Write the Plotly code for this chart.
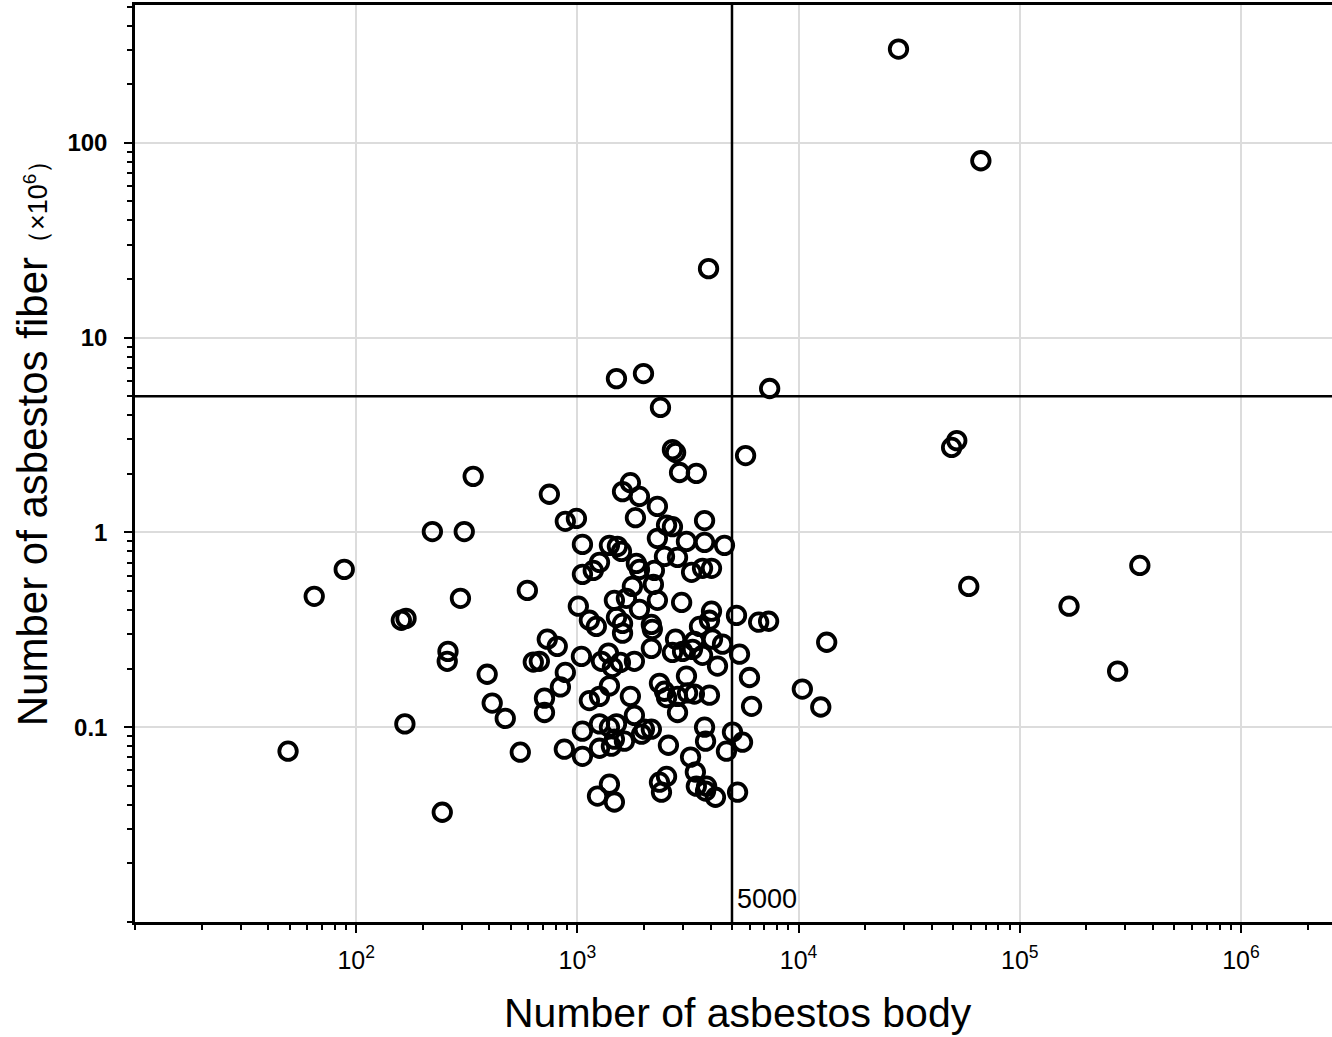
import math
import plotly.graph_objects as go

# Number of asbestos body (x) and number of asbestos fiber (x10^6) (y)
asbestos_body = [
    28300, 66700, 3917, 1990, 1502, 7400, 2375, 5760, 51900, 49200,
    2690, 2780, 2897, 3450, 338, 747, 1736, 1600, 1908, 990,
    882, 1830, 2300, 3758, 221, 308,
    1054, 1396, 1517, 1582, 2300, 2530, 2690, 3113, 3758, 4624,
    2476, 2836, 1259, 1180, 1054, 1848, 1908, 2229, 3283, 3680,
    4040, 88.3, 64.6,
    1773, 2206, 1010, 1470, 1666, 1908, 2300, 2960, 594, 296,
    160, 168, 5240, 4040, 3955, 3565, 6600, 7320, 1133, 1218,
    1502, 1600, 1600, 2160, 2182, 58800, 167000, 349000,
    731, 811, 2778, 3381, 4082, 4530, 3315, 3680, 13400, 673,
    1043, 1285, 1382, 1440, 1565, 1810, 2160, 2690, 2990, 5408,
    4300, 3113, 5998, 260, 258, 632, 391, 882, 838, 277000,
    710, 710, 1396, 1133, 1259, 1736, 2350, 2476, 2530, 2836,
    3148, 3381, 3955, 2836, 6130, 10400, 12600, 412, 472, 1054,
    1259, 1396, 1502, 1470, 1632, 1810, 1950, 2009, 2160, 2580,
    3758, 3797, 5025, 5580, 4720, 873, 1054, 1259, 1425, 3248,
    166, 49.2, 552,
    3415, 1396, 1233, 1470, 2350, 2530, 2400, 3450, 3840, 3797,
    4210, 5300, 245,
]
asbestos_fiber = [
    303, 80.9, 22.6, 6.54, 6.16, 5.48, 4.38, 2.48, 2.96, 2.73,
    2.66, 2.57, 2.03, 2.01, 1.94, 1.57, 1.80, 1.62, 1.53, 1.18,
    1.14, 1.19, 1.36, 1.15, 1.01, 1.01,
    0.868, 0.858, 0.848, 0.799, 0.932, 1.09, 1.07, 0.899, 0.889, 0.858,
    0.753, 0.744, 0.702, 0.638, 0.609, 0.693, 0.646, 0.638, 0.624, 0.654,
    0.654, 0.646, 0.470,
    0.528, 0.541, 0.418, 0.448, 0.459, 0.403, 0.448, 0.437, 0.504, 0.459,
    0.354, 0.362, 0.375, 0.394, 0.354, 0.329, 0.346, 0.350, 0.354, 0.329,
    0.366, 0.341, 0.304, 0.337, 0.318, 0.528, 0.418, 0.677,
    0.283, 0.260, 0.283, 0.276, 0.283, 0.267, 0.251, 0.234, 0.273, 0.218,
    0.231, 0.218, 0.240, 0.203, 0.215, 0.218, 0.254, 0.242, 0.245, 0.237,
    0.206, 0.183, 0.180, 0.245, 0.218, 0.216, 0.187, 0.191, 0.161, 0.194,
    0.141, 0.119, 0.163, 0.137, 0.144, 0.144, 0.168, 0.153, 0.142, 0.144,
    0.150, 0.148, 0.146, 0.119, 0.128, 0.157, 0.127, 0.133, 0.111, 0.0954,
    0.104, 0.100, 0.104, 0.0868, 0.0848, 0.115, 0.0921, 0.0977, 0.0977, 0.0808,
    0.100, 0.0848, 0.0944, 0.0838, 0.0753, 0.0771, 0.0709, 0.0780, 0.0799, 0.0702,
    0.104, 0.0753, 0.0744,
    0.0589, 0.0510, 0.0443, 0.0413, 0.0522, 0.0559, 0.0464, 0.0498, 0.0498, 0.0470,
    0.0437, 0.0464, 0.0366,
]

body_threshold = 5000
fiber_threshold = 5

x_tickvals = [1e2, 1e3, 1e4, 1e5, 1e6]
x_ticktext = ["10<sup>2</sup>", "10<sup>3</sup>", "10<sup>4</sup>", "10<sup>5</sup>", "10<sup>6</sup>"]
y_tickvals = [0.1, 1, 10, 100]
y_ticktext = ["<b>0.1</b>", "<b>1</b>", "<b>10</b>", "<b>100</b>"]

x_range = [10, 2.58e6]
y_range = [0.01, 510]

FONT = "Liberation Sans, Arial, Helvetica, sans-serif"

fig = go.Figure()

# threshold lines
fig.add_trace(go.Scatter(
    x=[body_threshold, body_threshold], y=[y_range[0] * 0.5, y_range[1] * 2],
    mode="lines", line=dict(color="black", width=2.5), hoverinfo="skip", showlegend=False,
))
fig.add_trace(go.Scatter(
    x=[x_range[0] * 0.5, x_range[1] * 2], y=[fiber_threshold, fiber_threshold],
    mode="lines", line=dict(color="black", width=2.5), hoverinfo="skip", showlegend=False,
))

fig.add_trace(go.Scatter(
    x=asbestos_body, y=asbestos_fiber, mode="markers",
    marker=dict(symbol="circle-open", size=17.5, color="black", line=dict(width=3.8, color="black")),
    showlegend=False, cliponaxis=False,
))

axis_common = dict(
    type="log",
    showline=True, linecolor="black", linewidth=2.5,
    ticks="outside", ticklen=8, tickwidth=2, tickcolor="black",
    showgrid=True, gridcolor="#dcdcdc", gridwidth=1.5,
    zeroline=False,
    minor=dict(ticks="outside", ticklen=5, tickwidth=1.5, tickcolor="black",
               dtick="D1", showgrid=False),
)

fig.update_xaxes(
    **axis_common,
    range=[math.log10(x_range[0]), math.log10(x_range[1])],
    tickmode="array", tickvals=x_tickvals, ticktext=x_ticktext,
    tickfont=dict(family=FONT, size=25, color="black"),
    ticklabelstandoff=6,
    mirror=True,
)
fig.update_yaxes(
    **axis_common,
    range=[math.log10(y_range[0]), math.log10(y_range[1])],
    tickmode="array", tickvals=y_tickvals, ticktext=y_ticktext,
    tickfont=dict(family=FONT, size=24, color="black"),
    ticklabelstandoff=12,
)

fig.add_annotation(
    x=math.log10(body_threshold), xref="x", y=0, yref="paper",
    text=str(body_threshold), showarrow=False,
    xanchor="left", yanchor="bottom", xshift=3, yshift=6,
    font=dict(family=FONT, size=27, color="black"),
)
fig.add_annotation(
    x=0.504, xref="paper", y=-0.099, yref="paper",
    text="Number of asbestos body", showarrow=False,
    xanchor="center", yanchor="middle",
    font=dict(family=FONT, size=41, color="black"),
)
fig.add_annotation(
    x=-0.085, xref="paper", y=0.53, yref="paper",
    text="Number of asbestos fiber<span style='font-size:27px'>（×10<sup>6</sup>）</span>",
    showarrow=False, textangle=-90,
    xanchor="center", yanchor="middle",
    font=dict(family=FONT, size=42, color="black"),
)

fig.update_layout(
    width=1332, height=1037,
    margin=dict(l=135, r=0, t=5, b=115),
    paper_bgcolor="white", plot_bgcolor="white",
    showlegend=False,
)

fig.write_html(
    "out.html",
    config={"displayModeBar": False},
    post_script="document.body.style.margin='0';document.body.style.overflow='hidden';",
)
